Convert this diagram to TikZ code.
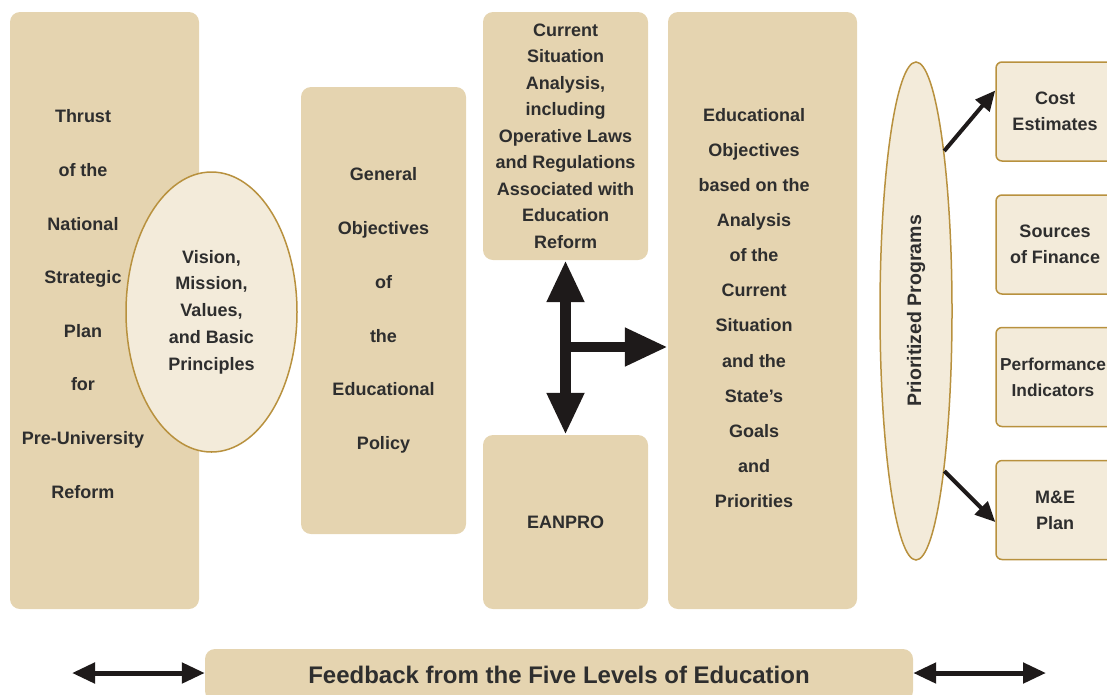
\documentclass[tikz,border=0pt]{standalone}
\usepackage{fontspec}
\setmainfont{Liberation Sans}
\usetikzlibrary{shapes.geometric,arrows.meta,calc}
\definecolor{tan}{HTML}{E5D4B0}
\definecolor{pale}{HTML}{F3EBDA}
\definecolor{gold}{HTML}{B8913E}
\definecolor{ink}{HTML}{2E2E2E}
\definecolor{arr}{HTML}{1E1A1A}
\begin{document}
\begin{tikzpicture}[x=1pt,y=-1pt,
  tanbox/.style={fill=tan, rounded corners=10pt, inner sep=0pt, align=center, text=ink},
  oval/.style={ellipse, draw=gold, fill=pale, line width=1.5pt, inner sep=0pt, align=center, text=ink},
  rbox/.style={fill=pale, draw=gold, line width=1.5pt, rounded corners=6pt, minimum width=118pt, minimum height=99pt, align=center, text=ink, font=\fontsize{18}{26}\selectfont\bfseries},
  lbl/.style={align=center, text=ink, inner sep=0pt},
  bigarrow/.style={draw=arr, line width=10.5pt},
  medarrow/.style={draw=arr, line width=5pt, {Triangle[width=20pt,length=23pt]}-{Triangle[width=20pt,length=23pt]}},
  diagarrow/.style={draw=arr, line width=4pt, -{Triangle[width=18pt,length=20pt]}}
]
\useasboundingbox (0,0) rectangle (1107,694);
\clip (0,0) rectangle (1107,694);

% left column
\node[tanbox, minimum width=189pt, minimum height=597pt] (thrust) at (104.5,310.5) {};
\node[lbl, font=\fontsize{18}{53.6}\selectfont\bfseries] (thrusttxt) at (83,304)
  {Thrust\\of the\\National\\Strategic\\Plan\\for\\Pre-University\\Reform};
\node[oval, minimum width=171pt, minimum height=280pt, font=\fontsize{18}{26.8}\selectfont\bfseries] (vision) at (211.5,312)
  {Vision,\\Mission,\\Values,\\and Basic\\Principles};

% general objectives
\node[tanbox, minimum width=165pt, minimum height=447pt, font=\fontsize{18}{53.8}\selectfont\bfseries] (gen) at (383.5,310.5)
  {General\\Objectives\\of\\the\\Educational\\Policy};

% current situation and EANPRO
\node[tanbox, minimum width=165pt, minimum height=248pt, font=\fontsize{18}{26.5}\selectfont\bfseries] (cur) at (565.5,136)
  {Current\\Situation\\Analysis,\\including\\Operative Laws\\and Regulations\\Associated with\\Education\\Reform};
\node[tanbox, minimum width=165pt, minimum height=174pt, font=\fontsize{18}{26.5}\selectfont\bfseries] (ean) at (565.5,522) {EANPRO};

% educational objectives
\node[tanbox, minimum width=189pt, minimum height=597pt] (edu) at (762.5,310.5) {};
\node[lbl, font=\fontsize{18}{35.1}\selectfont\bfseries] (edutxt) at (754,308)
  {Educational\\Objectives\\based on the\\Analysis\\of the\\Current\\Situation\\and the\\State's\\Goals\\and\\Priorities};

% prioritized programs
\node[oval, rotate=90, minimum width=498pt, minimum height=72pt, font=\fontsize{19.5}{22}\selectfont\bfseries] (prio) at (916,311) {Prioritized Programs};

% right boxes
\node[rbox] (cost) at (1055,111.5) {Cost\\Estimates};
\node[rbox] (fin) at (1055,244.5) {Sources\\of Finance};
\node[rbox, font=\fontsize{17.3}{26}\selectfont\bfseries] (perf) at (1055,377) {\hspace*{-4pt}Performance\\\hspace*{-4pt}Indicators};
\node[rbox] (me) at (1055,510) {M\&E\\Plan};

% feedback
\node[tanbox, minimum width=708pt, minimum height=52pt, font=\fontsize{24}{28}\selectfont\bfseries] (fb) at (559,675)
  {Feedback from the Five Levels of Education};

% central arrows
\draw[bigarrow, {Triangle[width=35pt,length=42pt]}-{Triangle[width=35pt,length=42pt]}] (cur.south) -- (ean.north);
\coordinate (junc) at (565.5,347);
\draw[bigarrow, -{Triangle[width=36pt,length=43pt]}] (junc) -- (junc -| edu.west);

% diagonal arrows
\draw[diagarrow] (prio.-10) -- ([yshift=21pt]cost.west);
\draw[diagarrow] (prio.190) -- ([yshift=-12pt]me.west);

% feedback arrows
\coordinate (fbL) at (72,673);
\coordinate (fbR) at (1046,673);
\draw[medarrow] (fbL) -- (fbL -| fb.west);
\draw[medarrow] (fbR -| fb.east) -- (fbR);
\end{tikzpicture}
\end{document}
